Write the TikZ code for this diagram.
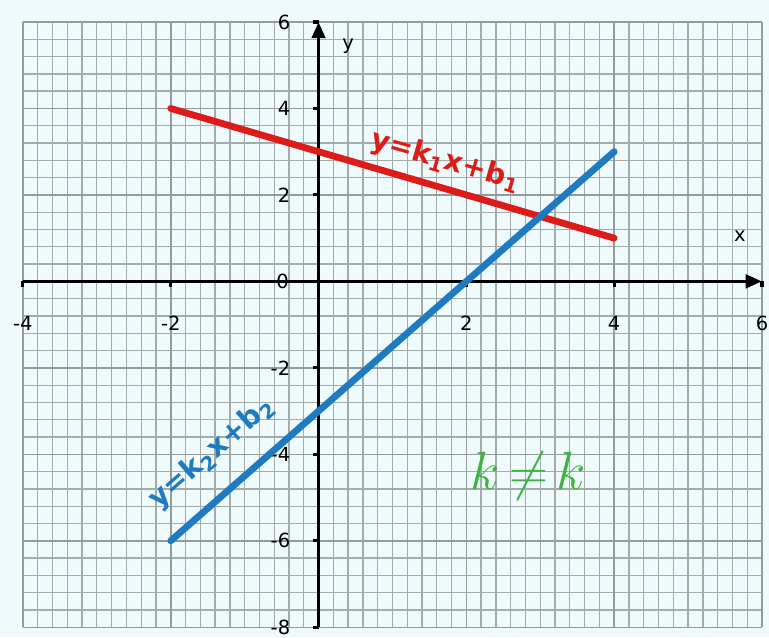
\documentclass[tikz,border=0pt]{standalone}
\usepackage{fontspec}
\setmainfont{DejaVu Sans}
\usetikzlibrary{arrows.meta}

\definecolor{paper}{HTML}{EFFAFC}
\definecolor{gridline}{HTML}{A3ABAB}
\definecolor{gridmajor}{HTML}{939B9B}
\definecolor{redline}{HTML}{DD1C1A}
\definecolor{blueline}{HTML}{1E7BC2}
\definecolor{greentext}{HTML}{3FB33F}

\begin{document}
\begin{tikzpicture}[
            x=1cm, y=0.585cm,
            every node/.style={font=\fontsize{7.5}{9}\selectfont},
            minorgrid/.style={gridline, line width=0.5pt},
            majorgrid/.style={gridmajor, line width=0.6pt},
            axis/.style={
                    line width=1.4pt,
                    black,
                    -{Triangle[length=2.2mm,width=1.8mm]}
                },
            tick/.style={line width=1.2pt, black},
            graph/.style={line width=2.6pt, line cap=round},
            eqn/.style={font=\fontsize{11}{12}\selectfont\bfseries, inner sep=0pt}
        ]

        % page and grid
        \fill[paper] (-4.31,-8.23) rectangle (6.095,6.508);
        \useasboundingbox (-4.31,-8.23) rectangle (6.095,6.508);
        \draw[minorgrid, xstep=0.2, ystep=0.4] (-4,-8) grid (6,6);
        \draw[majorgrid, xstep=2, ystep=2] (-4,-8) grid (6,6);

        % axes
        \coordinate (xstart) at (-4,0);
        \coordinate (xend) at (6,0);
        \coordinate (ystart) at (0,-8);
        \coordinate (yend) at (0,6);
        \draw[axis] (xstart) -- (xend);
        \draw[axis] (ystart) -- (yend);

        \foreach \x in {-4,-2,2,4,6} {
                \draw[tick] (\x,0) -- (\x,-0.12);
                \node (xl\x) at (\x,-0.97) {\x};
            }
        \foreach \y in {-8,-6,-4,-2,2,4,6} {
                \draw[tick] (0,\y) -- (-0.07,\y);
                \node[anchor=east] (yl\y) at (-0.26,\y) {\y};
            }
        \node[anchor=east] (origin) at (-0.28,0) {0};

        \node (xlabel) at (5.70,1.04) {x};
        \node (ylabel) at (0.40,5.45) {y};

        % the two lines
        \coordinate (ra) at (-2,4);
        \coordinate (rb) at (4,1);
        \coordinate (ba) at (-2,-6);
        \coordinate (bb) at (4,3);
        \draw[graph, redline] (ra) -- (rb);
        \draw[graph, blueline] (ba) -- (bb);

        \node[eqn, redline, rotate=-16] (eqred) at (1.72,2.77)
        {y=k\textsubscript{1}x+b\textsubscript{1}};
        \node[eqn, blueline, rotate=41] (eqblue) at (-1.44,-3.97)
        {y=k\textsubscript{2}x+b\textsubscript{2}};

        \node[greentext, font=\fontsize{22}{24}\selectfont] (neq) at (2.84,-4.50)
        {$k\,{\neq}\,k$};

    \end{tikzpicture}
\end{document}
